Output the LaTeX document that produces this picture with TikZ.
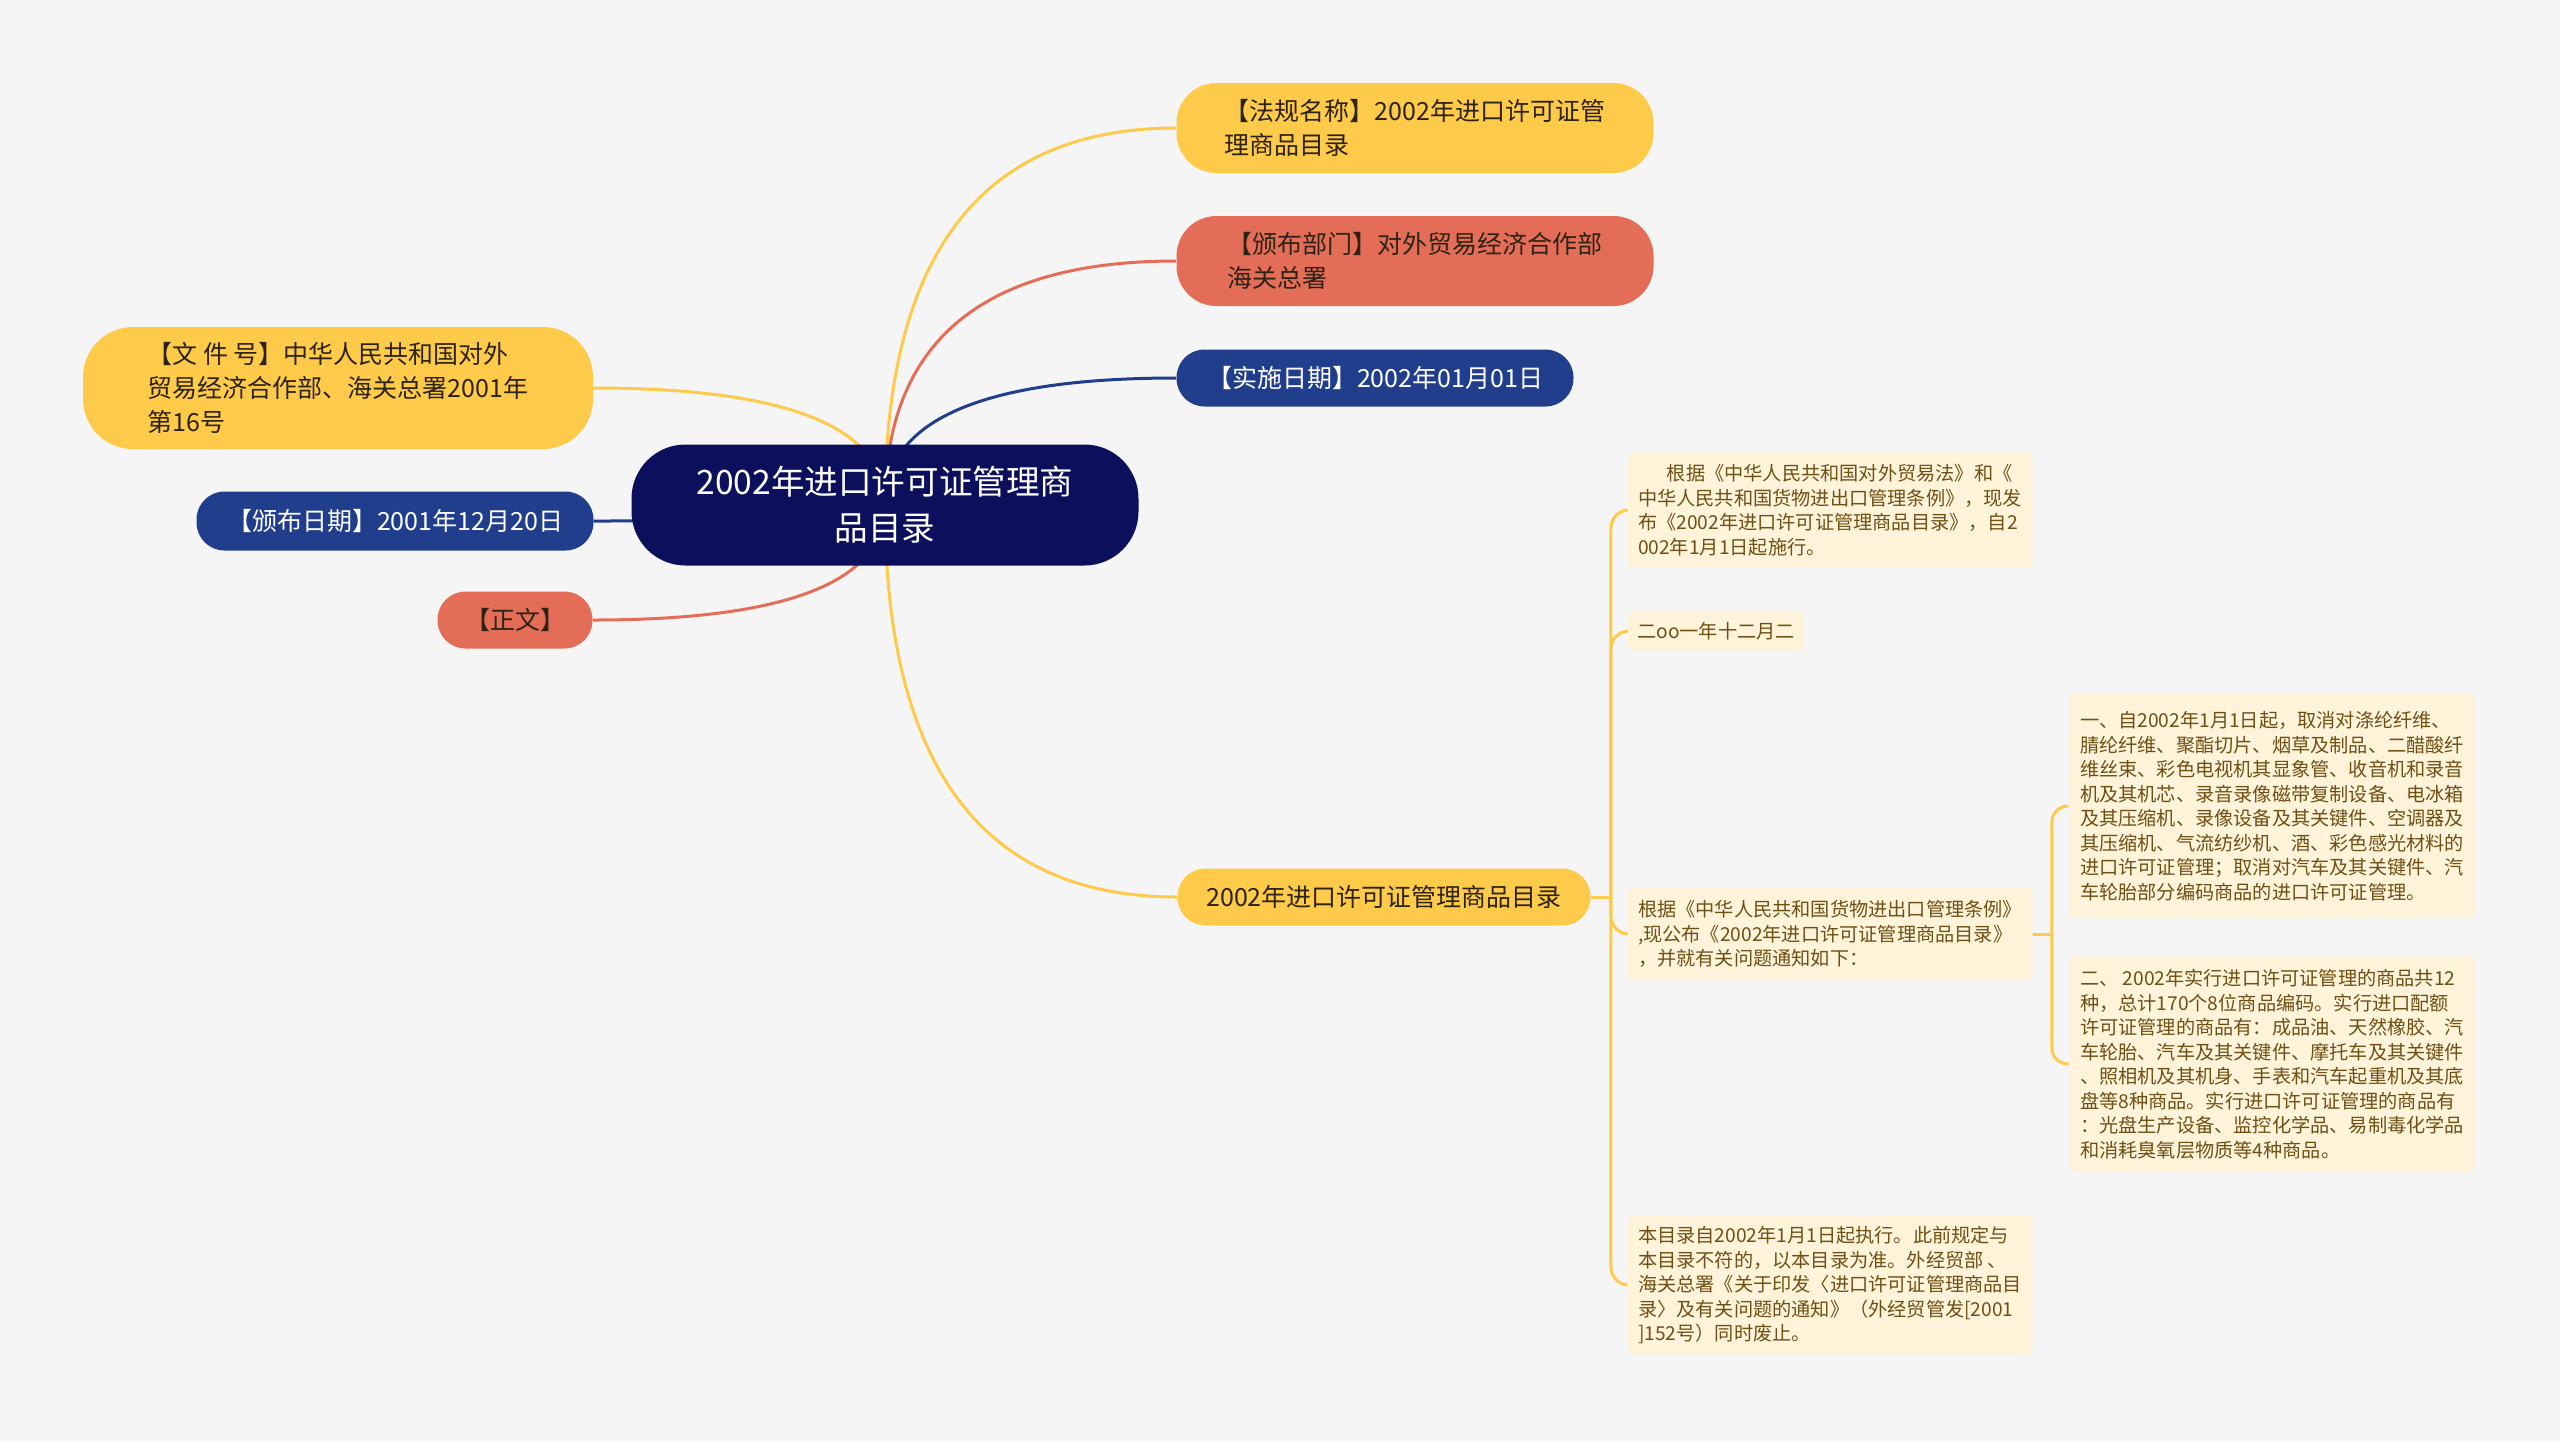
\documentclass[tikz,border=0pt]{standalone}
\usepackage{fontspec}
\setmainfont{Noto Sans CJK SC}
\usetikzlibrary{calc}

\definecolor{bgc}{RGB}{245,245,245}
\definecolor{yel}{RGB}{254,202,74}
\definecolor{redc}{RGB}{228,109,87}
\definecolor{bluc}{RGB}{33,62,140}
\definecolor{navy}{RGB}{11,15,92}
\definecolor{cream}{RGB}{255,243,218}
\definecolor{notetext}{RGB}{110,80,20}
\definecolor{ink}{RGB}{45,35,20}

\pgfdeclarelayer{edges}
\pgfsetlayers{edges,main}

\tikzset{
  pill/.style={rounded corners=14pt, inner sep=0pt, align=left, minimum height=28.5pt,
    font=\fontsize{12.5pt}{17pt}\selectfont},
  bigpill/.style={pill, rounded corners=20pt, minimum height=45pt},
  note/.style={fill=cream, rounded corners=3pt, inner sep=0pt, align=left, text=notetext,
    font=\fontsize{9.6pt}{12.25pt}\selectfont},
  link/.style={line width=1.5pt},
  % quadratic curve, control point at the corner
  bend link/.style={to path={.. controls ($(\tikztostart)!0.667!(\tikztostart |- \tikztotarget)$)
    and ($(\tikztotarget)!0.667!(\tikztostart |- \tikztotarget)$) .. (\tikztotarget)}},
}

\begin{document}
\begin{tikzpicture}[x=0.5pt,y=0.5pt,yscale=-1,xscale=1]
\begin{pgfonlayer}{edges}
\fill[bgc] (0,0) rectangle (2560,1442);
\end{pgfonlayer}
\useasboundingbox (0,0) rectangle (2560,1442);

% Root
\node[fill=navy, text=white, rounded corners=27pt, inner sep=0pt, align=center,
  minimum width=253.5pt, minimum height=60.5pt, font=\fontsize{16.8pt}{23pt}\selectfont]
  (root) at (885,505) {2002年进口许可证管理商\\品目录};

% Right topics
\node[bigpill, fill=yel, text=ink, minimum width=238.5pt] (law) at (1415,128)
  {【法规名称】2002年进口许可证管\\理商品目录};
\node[bigpill, fill=redc, text=ink, minimum width=238.5pt] (dept) at (1415,261)
  {【颁布部门】对外贸易经济合作部\\海关总署};
\node[pill, fill=bluc, text=white, minimum width=198.5pt] (impl) at (1375,378)
  {【实施日期】2002年01月01日};
\node[pill, fill=yel, text=ink, minimum width=206.5pt] (cat) at (1384,897)
  {2002年进口许可证管理商品目录};

% Left topics
\node[bigpill, rounded corners=25pt, fill=yel, text=ink, minimum width=255pt, minimum height=61pt]
  (docno) at (338,388) {【文 件 号】中华人民共和国对外\\贸易经济合作部、海关总署2001年\\第16号};
\node[pill, fill=bluc, text=white, minimum width=198.5pt, minimum height=29.5pt] (pubdate) at (395,521)
  {【颁布日期】2001年12月20日};
\node[pill, fill=redc, text=ink, minimum width=77.5pt] (body) at (515,620) {【正文】};

% Text Node
\node[note, minimum width=202.5pt, minimum height=57.5pt] (t1) at (1830,510)
  {\hspace*{1.5em}根据《中华人民共和国对外贸易法》和《\\中华人民共和国货物进出口管理条例》，现发\\布《2002年进口许可证管理商品目录》，自2\\002年1月1日起施行。};
% Text Node
\node[note, minimum width=88pt, minimum height=19.5pt] (t2) at (1716,631) {二oo一年十二月二};
% Text Node
\node[note, minimum width=202.5pt, minimum height=46pt] (t3) at (1830,934)
  {根据《中华人民共和国货物进出口管理条例》\\,现公布《2002年进口许可证管理商品目录》\\，并就有关问题通知如下：};
% Text Node
\node[note, minimum width=202.5pt, minimum height=69.5pt] (t4) at (1830,1285)
  {本目录自2002年1月1日起执行。此前规定与\\本目录不符的，以本目录为准。外经贸部 、\\海关总署《关于印发〈进口许可证管理商品目\\录〉及有关问题的通知》（外经贸管发[2001\\]152号）同时废止。};
% Text Node
\node[note, minimum width=203pt, minimum height=112pt] (t5) at (2272,806)
  {一、自2002年1月1日起，取消对涤纶纤维、\\腈纶纤维、聚酯切片、烟草及制品、二醋酸纤\\维丝束、彩色电视机其显象管、收音机和录音\\机及其机芯、录音录像磁带复制设备、电冰箱\\及其压缩机、录像设备及其关键件、空调器及\\其压缩机、气流纺纱机、酒、彩色感光材料的\\进口许可证管理；取消对汽车及其关键件、汽\\车轮胎部分编码商品的进口许可证管理。};
% Text Node
\node[note, minimum width=203pt, minimum height=107.5pt] (t6) at (2272,1064)
  {二、 2002年实行进口许可证管理的商品共12\\种，总计170个8位商品编码。实行进口配额\\许可证管理的商品有：成品油、天然橡胶、汽\\车轮胎、汽车及其关键件、摩托车及其关键件\\、照相机及其机身、手表和汽车起重机及其底\\盘等8种商品。实行进口许可证管理的商品有\\：光盘生产设备、监控化学品、易制毒化学品\\和消耗臭氧层物质等4种商品。};

% Connectors
\begin{pgfonlayer}{edges}
\draw[link, yel]  (root.center) to[bend link] (law.west);
\draw[link, redc] (root.center) to[bend link] (dept.west);
\draw[link, bluc] (root.center) to[bend link] (impl.west);
\draw[link, yel]  (root.center) to[bend link] (docno.east);
\draw[link, bluc] (root.center) to[bend link] (pubdate.east);
\draw[link, redc] (root.center) to[bend link] (body.east);
\draw[link, yel]  (root.center) to[bend link] (cat.west);

\coordinate (catj) at ([xshift=10pt]cat.east);
\draw[link, yel] (cat.east) -- (catj);
\foreach \n in {t1,t2,t3,t4}
  \draw[link, yel, rounded corners=9pt] (catj) |- (\n.west);

\coordinate (t3j) at ([xshift=9.5pt]t3.east);
\draw[link, yel] (t3.east) -- (t3j);
\foreach \n in {t5,t6}
  \draw[link, yel, rounded corners=8pt] (t3j) |- (\n.west);
\end{pgfonlayer}

\end{tikzpicture}
\end{document}
